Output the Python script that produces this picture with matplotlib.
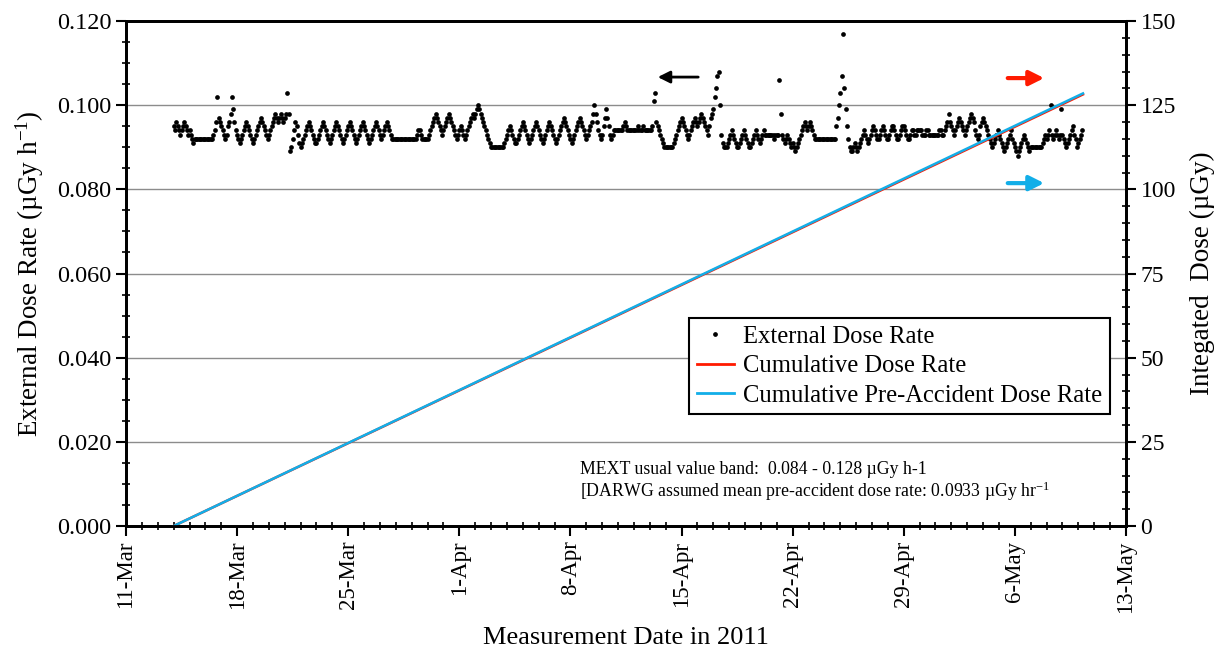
"""External dose rate and integrated dose, March-May 2011."""

import matplotlib

matplotlib.use("Agg")
import matplotlib.dates as mdates
import matplotlib.pyplot as plt
import numpy as np
import pandas as pd
from matplotlib.lines import Line2D
from matplotlib.ticker import FormatStrFormatter, MultipleLocator

plt.rcParams["font.family"] = ["Liberation Serif", "DejaVu Serif"]
plt.rcParams["mathtext.default"] = "regular"

# 2-hourly readings from 14-Mar 00:00, one row per day, in 0.001 uGy/h
RATE_START = "2011-03-14 00:00"
RATE_STEP = "2h"
DAILY_RATES = [
    [95, 94, 96, 95, 94, 93, 94, 95, 96, 95, 94, 93],  # 14-Mar
    [94, 93, 92, 91, 92, 92, 92, 92, 92, 92, 92, 92],
    [92, 92, 92, 92, 92, 92, 93, 94, 96, 102, 97, 96],
    [95, 94, 93, 92, 93, 95, 96, 98, 102, 99, 96, 94],
    [93, 92, 91, 92, 93, 94, 95, 96, 95, 94, 93, 92],
    [91, 92, 93, 94, 95, 96, 97, 96, 95, 94, 93, 92],
    [93, 94, 95, 96, 97, 98, 97, 96, 97, 98, 97, 96],  # 20-Mar
    [97, 98, 103, 98, 89, 90, 92, 94, 96, 95, 93, 91],
    [90, 91, 92, 93, 94, 95, 96, 95, 94, 93, 92, 91],
    [91, 92, 93, 94, 95, 96, 95, 94, 93, 92, 91, 92],
    [93, 94, 95, 96, 95, 94, 93, 92, 91, 92, 93, 94],
    [95, 96, 95, 94, 93, 92, 91, 92, 93, 94, 95, 96],
    [95, 94, 93, 92, 91, 92, 93, 94, 95, 96, 95, 94],
    [93, 92, 93, 94, 95, 96, 95, 94, 93, 92, 92, 92],
    [92, 92, 92, 92, 92, 92, 92, 92, 92, 92, 92, 92],
    [92, 92, 92, 92, 93, 94, 94, 93, 92, 92, 92, 92],
    [92, 93, 94, 95, 96, 97, 98, 97, 96, 95, 94, 93],  # 30-Mar
    [94, 95, 96, 97, 98, 97, 96, 95, 94, 93, 92, 93],
    [94, 95, 94, 93, 92, 93, 94, 95, 96, 97, 98, 97],  # 1-Apr
    [98, 99, 100, 99, 98, 97, 96, 95, 94, 93, 92, 91],
    [90, 90, 90, 90, 90, 90, 90, 90, 90, 90, 91, 92],
    [93, 94, 95, 94, 93, 92, 91, 91, 92, 93, 94, 95],
    [96, 95, 94, 93, 92, 91, 92, 93, 94, 95, 96, 95],
    [94, 93, 92, 91, 92, 93, 94, 95, 96, 95, 94, 93],
    [92, 91, 92, 93, 94, 95, 96, 97, 96, 95, 94, 93],
    [92, 91, 92, 93, 94, 95, 96, 97, 96, 95, 94, 93],
    [92, 93, 94, 95, 96, 98, 100, 98, 96, 94, 93, 92],
    [93, 95, 97, 99, 97, 95, 93, 92, 93, 94, 94, 94],  # 10-Apr
    [94, 94, 94, 94, 95, 96, 95, 94, 94, 94, 94, 94],
    [94, 94, 94, 95, 94, 94, 94, 95, 94, 94, 94, 94],
    [94, 94, 95, 101, 103, 96, 95, 94, 93, 92, 91, 90],
    [90, 90, 90, 90, 90, 90, 91, 92, 93, 94, 95, 96],
    [97, 96, 95, 94, 93, 92, 93, 94, 95, 96, 97, 96],
    [95, 96, 97, 98, 97, 96, 95, 94, 93, 95, 97, 98],
    [99, 102, 104, 107, 108, 100, 93, 91, 90, 90, 90, 91],
    [92, 93, 94, 93, 92, 91, 90, 90, 91, 92, 93, 94],
    [93, 92, 91, 90, 90, 91, 92, 93, 94, 93, 92, 91],
    [92, 93, 94, 93, 93, 93, 93, 93, 93, 93, 92, 93],  # 20-Apr
    [93, 93, 106, 98, 93, 92, 91, 92, 93, 92, 91, 90],
    [91, 90, 89, 90, 91, 92, 93, 94, 95, 96, 95, 94],
    [95, 96, 95, 94, 93, 92, 92, 92, 92, 92, 92, 92],
    [92, 92, 92, 92, 92, 92, 92, 92, 92, 95, 97, 100],
    [103, 107, 117, 104, 99, 95, 92, 90, 89, 89, 90, 91],
    [90, 89, 90, 91, 92, 93, 94, 93, 92, 91, 92, 93],
    [94, 95, 94, 93, 92, 92, 93, 94, 95, 94, 93, 92],
    [92, 93, 94, 95, 95, 94, 93, 92, 92, 93, 94, 95],
    [95, 94, 93, 92, 92, 93, 94, 94, 93, 93, 94, 94],
    [94, 94, 93, 93, 93, 94, 94, 93, 93, 93, 93, 93],  # 30-Apr
    [93, 93, 93, 94, 94, 93, 93, 94, 95, 96, 98, 96],
    [95, 94, 93, 94, 95, 96, 97, 96, 95, 94, 93, 94],
    [95, 96, 97, 98, 97, 96, 94, 93, 92, 93, 95, 96],
    [97, 96, 95, 94, 93, 92, 91, 90, 91, 92, 93, 94],
    [93, 92, 91, 90, 89, 90, 91, 92, 93, 94, 92, 91],
    [90, 89, 88, 89, 90, 91, 92, 93, 92, 91, 90, 89],
    [90, 90, 90, 90, 90, 90, 90, 90, 90, 91, 92, 93],
    [92, 93, 94, 100, 93, 92, 93, 94, 93, 92, 93, 99],
    [93, 92, 91, 90, 91, 92, 93, 94, 95, 93, 92, 90],
    [91, 92, 93, 94],  # 10-May
]

# integrated dose read at the ends of the straight lines (uGy)
CUM_TIMES = ["2011-03-14 00:00", "2011-05-10 07:00"]
CUM_DOSE = [0.0, 128.2]
CUM_PRE_DOSE = [0.0, 128.5]

X_START = "2011-03-11"
X_END = "2011-05-13"

NOTE_LINES = [
    "MEXT usual value band:  0.084 - 0.128 µGy h-1",
    "[DARWG assumed mean pre-accident dose rate: 0.0933 µGy hr$^{-1}$",
]

RED = "#ff1a00"
BLUE = "#12aee8"


def main():
    rates = np.concatenate([np.array(day, dtype=float) for day in DAILY_RATES]) / 1000.0
    times = pd.date_range(RATE_START, periods=len(rates), freq=RATE_STEP)
    cum_times = pd.to_datetime(CUM_TIMES)

    fig = plt.figure(figsize=(12.26, 6.47), dpi=100)
    ax = fig.add_axes([0.1028, 0.187, 0.8156, 0.7805])
    ax2 = ax.twinx()

    ax.plot(times, rates, linestyle="none", marker="o", markersize=3.4,
            color="black", markeredgewidth=0)
    ax2.plot(cum_times, CUM_DOSE, color=RED, lw=1.8)
    ax2.plot(cum_times, CUM_PRE_DOSE, color=BLUE, lw=1.8)

    ax.set_xlim(pd.Timestamp(X_START), pd.Timestamp(X_END))
    ax.set_ylim(0, 0.12)
    ax2.set_ylim(0, 150)

    ax.set_xticks(pd.date_range(X_START, X_END, freq="7D"))
    ax.xaxis.set_minor_locator(mdates.DayLocator())
    ax.xaxis.set_major_formatter(mdates.DateFormatter("%-d-%b"))
    ax.yaxis.set_major_locator(MultipleLocator(0.02))
    ax.yaxis.set_minor_locator(MultipleLocator(0.005))
    ax.yaxis.set_major_formatter(FormatStrFormatter("%.3f"))
    ax2.yaxis.set_major_locator(MultipleLocator(25))
    ax2.yaxis.set_minor_locator(MultipleLocator(5))

    ax.grid(axis="y", which="major", color="#8c8c8c", lw=1)
    ax.set_axisbelow(True)

    for a in (ax, ax2):
        for spine in a.spines.values():
            spine.set_linewidth(2)
            spine.set_color("black")
    ax.tick_params(axis="y", which="major", labelsize=17.5, direction="out",
                   length=7, width=1.5)
    ax.tick_params(axis="x", which="major", labelsize=16.5, direction="out",
                   length=7, width=1.5, labelrotation=90)
    ax.tick_params(axis="both", which="minor", direction="inout", length=6, width=1.2)
    ax2.tick_params(axis="y", which="major", labelsize=17, direction="out",
                    length=7, width=1.5)
    ax2.tick_params(axis="y", which="minor", direction="inout", length=6, width=1.2)

    ax.set_xlabel("Measurement Date in 2011", fontsize=19, labelpad=10)
    ax.set_ylabel("External Dose Rate (µGy h$^{-1}$)", fontsize=19.5, labelpad=8)
    ax2.set_ylabel("Integated  Dose (µGy)", fontsize=19.5, labelpad=10)

    # axis pointers
    ax2.annotate("", xy=(0.529, 0.889), xytext=(0.575, 0.889), xycoords="axes fraction",
                 arrowprops=dict(arrowstyle="-|>", color="black", lw=2, mutation_scale=18))
    ax2.annotate("", xy=(0.921, 0.887), xytext=(0.879, 0.887), xycoords="axes fraction",
                 arrowprops=dict(arrowstyle="-|>", color=RED, lw=3, mutation_scale=22))
    ax2.annotate("", xy=(0.921, 0.679), xytext=(0.879, 0.679), xycoords="axes fraction",
                 arrowprops=dict(arrowstyle="-|>", color=BLUE, lw=3, mutation_scale=22))

    ax2.text(0.454, 0.103, NOTE_LINES[0], transform=ax2.transAxes, fontsize=12.8)
    ax2.text(0.454, 0.057, NOTE_LINES[1], transform=ax2.transAxes, fontsize=12.8)

    handles = [
        Line2D([], [], linestyle="none", marker="o", markersize=2.4, color="black"),
        Line2D([], [], color=RED, lw=2),
        Line2D([], [], color=BLUE, lw=2),
    ]
    labels = ["External Dose Rate", "Cumulative Dose Rate", "Cumulative Pre-Accident Dose Rate"]
    leg = ax2.legend(handles, labels, loc="upper right", bbox_to_anchor=(0.984, 0.412),
                     fontsize=17.7, frameon=True, fancybox=False, framealpha=1,
                     edgecolor="black", borderaxespad=0, handlelength=1.5,
                     handletextpad=0.4, labelspacing=0.3, borderpad=0.3, numpoints=1)
    leg.get_frame().set_linewidth(1.5)

    fig.savefig("out.png", dpi=100)
    plt.close(fig)


if __name__ == "__main__":
    main()
